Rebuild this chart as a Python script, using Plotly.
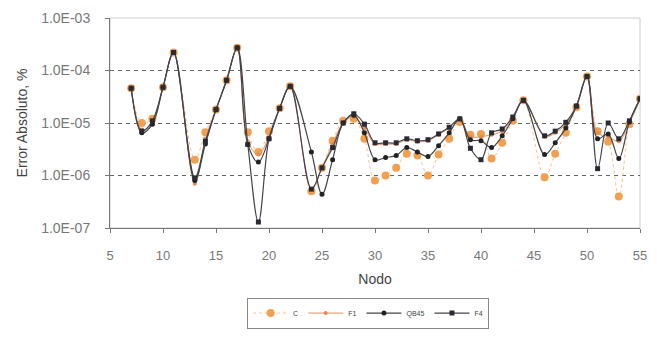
import plotly.graph_objects as go

nodes = [7, 8, 9, 10, 11, 13, 14, 15, 16, 17, 18, 19, 20, 21, 22, 24, 25, 26, 27, 28,
         29, 30, 31, 32, 33, 34, 35, 36, 37, 38, 39, 40, 41, 42, 43, 44, 46, 47, 48, 49,
         50, 51, 52, 53, 54, 55]

c_vals = [4.6e-5, 1.0e-5, 1.2e-5, 4.8e-5, 2.2e-4, 2.0e-6, 6.7e-6, 1.8e-5, 6.5e-5, 2.7e-4,
          6.7e-6, 2.8e-6, 7.0e-6, 1.9e-5, 5.0e-5, 5.0e-7, 1.4e-6, 4.6e-6, 1.1e-5, 1.2e-5,
          5.0e-6, 8.0e-7, 1.0e-6, 1.4e-6, 2.6e-6, 2.4e-6, 1.0e-6, 2.5e-6, 5.0e-6, 1.05e-5,
          6.0e-6, 6.2e-6, 2.1e-6, 4.2e-6, 1.1e-5, 2.7e-5, 9.3e-7, 2.6e-6, 6.5e-6, 2.0e-5,
          7.7e-5, 7.0e-6, 4.4e-6, 4.0e-7, 9.5e-6, 2.9e-5]

f1_vals = [4.6e-5, 7.5e-6, 1.0e-5, 4.8e-5, 2.2e-4, 7.0e-7, 5.0e-6, 1.8e-5, 6.5e-5, 2.7e-4,
           4.5e-6, 2.5e-6, 5.5e-6, 1.9e-5, 5.0e-5, 5.5e-7, 1.4e-6, 4.0e-6, 1.0e-5, 1.3e-5,
           8.0e-6, 4.0e-6, 4.0e-6, 4.0e-6, 4.8e-6, 4.4e-6, 4.6e-6, 6.0e-6, 8.0e-6, 1.15e-5,
           5.5e-6, 5.5e-6, 6.0e-6, 7.0e-6, 1.2e-5, 2.7e-5, 5.5e-6, 6.5e-6, 9.5e-6, 2.0e-5,
           7.7e-5, 6.5e-6, 5.5e-6, 4.5e-6, 1.0e-5, 2.8e-5]

qb45_vals = [4.6e-5, 6.5e-6, 9.5e-6, 4.8e-5, 2.2e-4, 8.0e-7, 4.0e-6, 1.8e-5, 6.5e-5, 2.7e-4,
             3.9e-6, 1.8e-6, 5.0e-6, 1.9e-5, 5.0e-5, 2.8e-6, 4.4e-7, 2.0e-6, 1.0e-5, 1.4e-5,
             6.5e-6, 2.0e-6, 2.2e-6, 2.4e-6, 3.4e-6, 2.8e-6, 2.3e-6, 3.7e-6, 6.5e-6, 1.2e-5,
             4.8e-6, 4.6e-6, 3.4e-6, 5.7e-6, 1.2e-5, 2.7e-5, 2.5e-6, 4.2e-6, 8.0e-6, 2.1e-5,
             7.7e-5, 5.0e-6, 6.2e-6, 2.1e-6, 1.05e-5, 2.9e-5]

f4_vals = [4.6e-5, 7.0e-6, 1.1e-5, 4.8e-5, 2.2e-4, 9.0e-7, 4.5e-6, 1.8e-5, 6.5e-5, 2.7e-4,
           3.9e-6, 1.3e-7, 5.0e-6, 1.9e-5, 5.0e-5, 5.5e-7, 1.4e-6, 3.4e-6, 1.0e-5, 1.5e-5,
           9.5e-6, 4.2e-6, 4.2e-6, 4.2e-6, 5.0e-6, 4.6e-6, 4.8e-6, 6.2e-6, 8.3e-6, 1.2e-5,
           3.3e-6, 2.0e-6, 6.5e-6, 7.7e-6, 1.3e-5, 2.7e-5, 5.7e-6, 7.0e-6, 1.03e-5, 2.1e-5,
           7.7e-5, 1.35e-6, 1.0e-5, 5.0e-6, 1.1e-5, 2.9e-5]

y_tickvals = [1e-7, 1e-6, 1e-5, 1e-4, 1e-3]
y_ticktext = ["1.0E-07", "1.0E-06", "1.0E-05", "1.0E-04", "1.0E-03"]
x_tickvals = [5, 10, 15, 20, 25, 30, 35, 40, 45, 50, 55]

fig = go.Figure()
fig.add_trace(go.Scatter(
    x=nodes, y=c_vals, name="C", mode="lines+markers",
    line=dict(color="#f5c48a", width=1, dash="dot", shape="spline", smoothing=1.0),
    marker=dict(symbol="circle", size=8, color="#f0a050"),
))
fig.add_trace(go.Scatter(
    x=nodes, y=f1_vals, name="F1", mode="lines+markers",
    line=dict(color="#e89060", width=1, shape="spline", smoothing=1.0),
    marker=dict(symbol="circle", size=4, color="#e88a50"),
))
fig.add_trace(go.Scatter(
    x=nodes, y=qb45_vals, name="QB45", mode="lines+markers",
    line=dict(color="#444444", width=1.2, shape="spline", smoothing=1.0),
    marker=dict(symbol="circle", size=5, color="#222222"),
))
fig.add_trace(go.Scatter(
    x=nodes, y=f4_vals, name="F4", mode="lines+markers",
    line=dict(color="#44444e", width=1.2, shape="spline", smoothing=1.0),
    marker=dict(symbol="square", size=5, color="#2a2a35"),
))

fig.add_shape(type="rect", xref="paper", yref="paper", x0=0, x1=1, y0=0, y1=1,
              line=dict(color="#cccccc", width=1), layer="below")

fig.update_layout(
    width=657, height=338,
    margin=dict(l=110, r=10, t=17, b=102),
    paper_bgcolor="white", plot_bgcolor="white",
    font=dict(family="Liberation Sans, Arial, sans-serif", color="#555555", size=11),
    showlegend=True,
    legend=dict(orientation="h", x=0.487, xanchor="center", y=-0.405, yanchor="middle",
                bordercolor="#888888", borderwidth=1, font=dict(size=7, color="#444444"),
                itemwidth=35, tracegroupgap=0),
    xaxis=dict(range=[5, 55], tickvals=x_tickvals, showgrid=False,
               showline=True, linecolor="#777777", linewidth=1,
               ticks="outside", ticklen=4, tickcolor="#777777", ticklabelstandoff=11,
               tickfont=dict(size=13, color="#777777"),
               title=dict(text="Nodo", font=dict(size=14, color="#444444"), standoff=12),
               zeroline=False),
    yaxis=dict(type="log", range=[-7, -3], tickvals=y_tickvals, ticktext=y_ticktext,
               showgrid=True, gridcolor="#666666", griddash="4px,4px", gridwidth=1,
               showline=True, linecolor="#777777", linewidth=1,
               ticks="outside", ticklen=4, tickcolor="#777777", ticklabelstandoff=12,
               tickfont=dict(size=14, color="#777777"),
               title=dict(text="Error Absoluto, %", font=dict(size=14, color="#444444"), standoff=10),
               zeroline=False),
)

fig.write_html("out.html")
